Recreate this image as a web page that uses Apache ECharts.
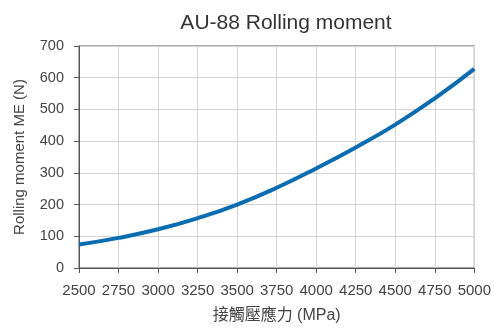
<!DOCTYPE html>
<html>
<head>
<meta charset="utf-8">
<script src="https://cdn.jsdelivr.net/npm/echarts@6/dist/echarts.min.js"></script>
<style>
html,body{margin:0;padding:0;background:#fff;}
#chart{width:494px;height:329px;}
</style>
</head>
<body>
<div id="chart"></div>
<script>
const stress = [2500, 2750, 3000, 3250, 3500, 3750, 4000, 4250, 4500, 4750, 5000];
const moment = [74, 95, 122, 157, 200, 253, 314, 380, 452, 535, 628];
const titleText = 'AU-88 Rolling moment';
const xName = '接觸壓應力 (MPa)';
const yName = 'Rolling moment ME (N)';

const chart = echarts.init(document.getElementById('chart'), null, {renderer: 'canvas'});
const font = 'Liberation Sans, Arial, sans-serif';
chart.setOption({
  animation: false,
  backgroundColor: '#fff',
  title: {
    text: titleText, left: 281, top: 8, textAlign: 'center',
    textStyle: {fontFamily: font, fontSize: 21, fontWeight: 'normal', color: '#333'}
  },
  grid: {left: 79, right: 19, top: 46, bottom: 57, show: true, borderColor: '#555', borderWidth: 1},
  xAxis: {
    type: 'value', min: 2500, max: 5000, interval: 250,
    name: xName, nameLocation: 'middle', nameGap: 40,
    nameTextStyle: {fontFamily: "Liberation Sans, 'Noto Sans CJK TC', sans-serif", fontSize: 16, color: '#444'},
    axisLine: {lineStyle: {color: '#555'}},
    axisTick: {show: true, length: 5, lineStyle: {color: '#555'}},
    axisLabel: {fontFamily: font, fontSize: 15, color: '#444', margin: 15, formatter: v => String(v)},
    splitLine: {show: true, lineStyle: {color: '#d4d4d4'}}
  },
  yAxis: {
    type: 'value', min: 0, max: 700, interval: 100,
    name: yName, nameLocation: 'middle', nameGap: 52,
    nameTextStyle: {fontFamily: font, fontSize: 15, color: '#444'},
    axisLine: {show: true, lineStyle: {color: '#555'}},
    axisTick: {show: true, length: 5, lineStyle: {color: '#555'}},
    axisLabel: {fontFamily: font, fontSize: 14.5, color: '#444', margin: 15, formatter: v => String(v)},
    splitLine: {show: true, lineStyle: {color: '#d4d4d4'}}
  },
  series: [{
    type: 'line', smooth: true, showSymbol: false,
    data: stress.map((x, i) => [x, moment[i]]),
    lineStyle: {color: '#0a6db3', width: 4}
  }]
});
</script>
</body>
</html>
